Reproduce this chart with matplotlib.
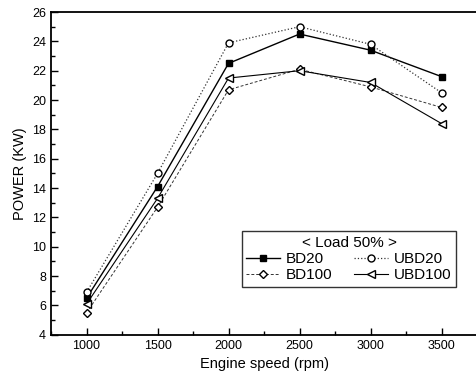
import matplotlib.pyplot as plt
from matplotlib.ticker import MultipleLocator

plt.rcParams['font.family'] = ['Liberation Sans', 'DejaVu Sans']

# 엔진 회전수 (rpm)
speed = [1000, 1500, 2000, 2500, 3000, 3500]

# 출력 (kW)
bd20 = [6.5, 14.1, 22.5, 24.5, 23.4, 21.6]
ubd20 = [6.9, 15.0, 23.9, 25.0, 23.8, 20.5]
bd100 = [5.5, 12.7, 20.7, 22.1, 20.9, 19.5]
ubd100 = [6.1, 13.3, 21.5, 22.0, 21.2, 18.4]


def main():
    fig = plt.figure(figsize=(4.77, 3.88), dpi=100)
    ax = fig.add_axes([0.107, 0.137, 0.893, 0.832])

    ax.plot(speed, bd20, color='black', linestyle='-', linewidth=1.0,
            marker='s', markersize=5, markerfacecolor='black', label='BD20')
    ax.plot(speed, bd100, color='#333333', linestyle='--', linewidth=0.7, dashes=(3, 2),
            marker='D', markersize=4.5, markerfacecolor='white', markeredgecolor='black',
            label='BD100')
    ax.plot(speed, ubd20, color='#333333', linestyle=':', linewidth=0.9,
            marker='o', markersize=5, markerfacecolor='white', markeredgecolor='black',
            label='UBD20')
    ax.plot(speed, ubd100, color='black', linestyle='-', linewidth=0.8,
            marker='<', markersize=5.5, markerfacecolor='white', label='UBD100')

    ax.set_xlim(750, 3750)
    ax.set_ylim(4, 26)
    ax.xaxis.set_major_locator(MultipleLocator(500))
    ax.xaxis.set_minor_locator(MultipleLocator(250))
    ax.yaxis.set_major_locator(MultipleLocator(2))
    ax.yaxis.set_minor_locator(MultipleLocator(1))
    ax.tick_params(which='both', direction='in', labelsize=9, width=1.0)
    ax.tick_params(which='major', length=5)
    ax.tick_params(which='minor', length=3)
    ax.spines['right'].set_visible(False)
    for s in ['left', 'bottom', 'top']:
        ax.spines[s].set_linewidth(1.3)

    ax.set_xlabel('Engine speed (rpm)', fontsize=10.5)
    ax.set_ylabel('POWER (KW)', fontsize=10.5)

    leg = ax.legend(ncol=2, title='< Load 50% >', fontsize=11, title_fontsize=11,
                    loc='lower left', bbox_to_anchor=(0.43, 0.125),
                    frameon=True, fancybox=False, edgecolor='black',
                    handlelength=2.2, handletextpad=0.4, columnspacing=1.4,
                    borderpad=0.3, labelspacing=0.15)
    leg.get_frame().set_linewidth(1.0)

    fig.savefig('out.png', dpi=100)


if __name__ == "__main__":
    main()
